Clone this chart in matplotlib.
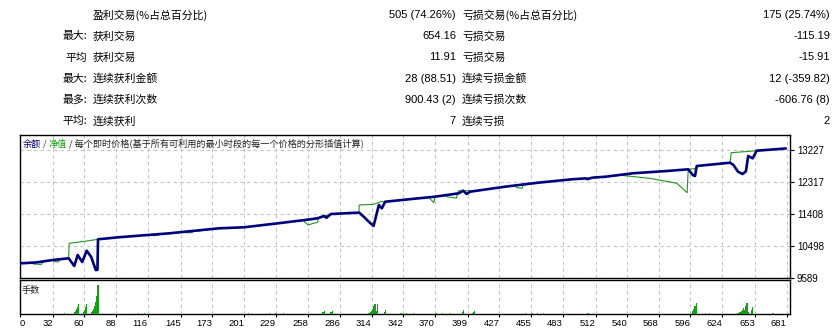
import matplotlib
matplotlib.use("Agg")
import matplotlib.pyplot as plt

# ---------------- data ----------------
row_prefix = ["", "最大:", "平均", "最大:", "最多:", "平均:"]
row_label_left = ["盈利交易(%占总百分比)", "获利交易", "获利交易", "连续获利金额", "连续获利次数", "连续获利"]
row_value_left = ["505 (74.26%)", "654.16", "11.91", "28 (88.51)", "900.43 (2)", "7"]
row_label_right = ["亏损交易(%占总百分比)", "亏损交易", "亏损交易", "连续亏损金额", "连续亏损次数", "连续亏损"]
row_value_right = ["175 (25.74%)", "-115.19", "-15.91", "12 (-359.82)", "-606.76 (8)", "2"]

balance_t = [0, 17, 32, 46, 51, 54, 58, 62, 66, 70, 71.5, 72, 90, 135, 179, 201, 231, 260, 266,
             272, 274, 278, 301, 303, 307, 311.5, 315.7, 320.4, 323, 326, 348, 370, 391, 395,
             398, 401, 432, 461, 491, 503, 505, 509, 521, 545, 575, 594, 598, 600, 601.5, 631,
             634, 638, 642, 645, 647, 651, 654.5, 680]
balance_v = [10000, 10030, 10101, 10149, 9930, 10243, 10044, 10365, 10186, 9816, 9820, 10689,
             10746, 10859, 11001, 11030, 11143, 11257, 11286, 11351, 11300, 11408, 11445, 11445,
             11331, 11189, 11067, 11664, 11570, 11757, 11830, 11900, 11996, 12070, 11976, 12042,
             12184, 12297, 12394, 12420, 12400, 12440, 12468, 12565, 12630, 12678, 12516, 12488,
             12772, 12866, 12800, 12610, 12545, 12620, 13056, 12991, 13207, 13270]

equity_t = [0, 14, 15, 22, 23, 32, 33, 37, 38, 46, 46.5, 62, 72, 90, 120, 121, 125, 126, 135,
            150, 151, 155, 156, 179, 201, 231, 254, 255, 258, 262, 266, 267, 272, 278, 302.7,
            303, 316, 322, 326, 348, 365, 366, 369, 370, 379, 380, 389, 390, 391, 404, 405, 432,
            441, 442, 447, 448, 461, 491, 498, 508, 521, 534, 560, 584, 593, 594, 601, 601.5,
            631, 632, 655, 680]
equity_v = [10000, 10025, 9985, 9975, 10045, 10101, 10060, 10045, 10110, 10149, 10575, 10640,
            10689, 10746, 10821, 10790, 10800, 10826, 10859, 10900, 10870, 10880, 10911, 11001,
            11030, 11143, 11235, 11170, 11095, 11140, 11170, 11286, 11351, 11408, 11445, 11664,
            11684, 11757, 11757, 11830, 11885, 11830, 11729, 11900, 11950, 11900, 11860, 11990,
            12070, 12070, 12060, 12184, 12215, 12160, 12140, 12230, 12297, 12394, 12410, 12440,
            12468, 12510, 12422, 12280, 12013, 12678, 12700, 12772, 12866, 13150, 13207, 13270]

lot_t = [42, 51, 52, 53, 54, 55, 59, 60, 61, 62, 66, 67, 68, 69, 70, 71, 72, 108, 113, 205,
         224, 229, 236, 271, 272, 278, 279, 311, 312, 313, 314, 315, 316, 317, 318, 319, 325, 326,
         340, 345, 351, 371, 377, 384, 394, 395, 403, 404, 405, 450, 456, 461, 466, 505, 506,
         598, 599, 600, 601, 609, 613, 638, 639, 640, 641, 642, 643, 644, 645, 646, 647, 650,
         651, 669]
lot_v = [0.01, 0.02, 0.03, 0.05, 0.07, 0.10, 0.02, 0.04, 0.07, 0.10, 0.02, 0.03, 0.05, 0.08,
         0.12, 0.18, 0.29, 0.01, 0.01, 0.01, 0.01, 0.01, 0.01, 0.02, 0.03, 0.02, 0.03, 0.01,
         0.01, 0.02, 0.03, 0.05, 0.08, 0.10, 0.03, 0.10, 0.02, 0.04, 0.01, 0.01, 0.01, 0.01,
         0.01, 0.01, 0.02, 0.04, 0.01, 0.02, 0.03, 0.01, 0.01, 0.01, 0.01, 0.01, 0.01, 0.03,
         0.05, 0.08, 0.11, 0.01, 0.01, 0.01, 0.02, 0.02, 0.03, 0.04, 0.06, 0.04, 0.08, 0.11,
         0.02, 0.04, 0.07, 0.01]

x_ticks = [0, 32, 60, 88, 116, 145, 173, 201, 229, 258, 286, 314, 342, 370, 399, 427, 455,
           483, 512, 540, 568, 596, 624, 653, 681]
y_ticks = [9589, 10498, 11408, 12317, 13227]

title_parts = ["余额", " / ", "净值", " / 每个即时价格(基于所有可利用的最小时段的每一个价格的分形插值计算)"]
lots_title = "手数"

# ---------------- style ----------------
W, H = 840, 333
NAVY = "#00007F"
GREEN = "#1E961E"
BAR_GREEN = "#14A014"
GRID = "#C4C4C4"
CJK = ["Noto Sans CJK SC", "DejaVu Sans"]
NUM = ["Liberation Sans", "DejaVu Sans"]

fig = plt.figure(figsize=(W / 100, H / 100), dpi=100)
fig.patch.set_facecolor("white")


def fx(px):
    return px / W


def fy(py):
    return 1 - py / H


# ---------------- statistics table ----------------
for i in range(len(row_label_left)):
    yy = fy(15 + 21.2 * i)
    if row_prefix[i]:
        fig.text(fx(87), yy, row_prefix[i], ha="right", va="center", fontsize=7.8, family=CJK)
    fig.text(fx(93), yy, row_label_left[i], ha="left", va="center", fontsize=7.8, family=CJK)
    fig.text(fx(456), yy, row_value_left[i], ha="right", va="center", fontsize=8, family=NUM)
    fig.text(fx(462), yy, row_label_right[i], ha="left", va="center", fontsize=7.8, family=CJK)
    fig.text(fx(830), yy, row_value_right[i], ha="right", va="center", fontsize=8, family=NUM)

# ---------------- axes ----------------
L, R = 20, 790
ax = fig.add_axes([fx(L), fy(278), (R - L) / W, (278 - 135) / H])
ax2 = fig.add_axes([fx(L), fy(314), (R - L) / W, (314 - 280) / H])

x_left, x_right = 3, 684
ytop = y_ticks[-1] + (y_ticks[-1] - y_ticks[0]) / 4 * (15 / 32)

ax.plot(equity_t, equity_v, color=GREEN, lw=0.8, zorder=3)
ax.plot(balance_t, balance_v, color=NAVY, lw=1.9, zorder=4, solid_joinstyle="round")
ax.set_xlim(x_left, x_right)
ax.set_ylim(y_ticks[0], ytop)

tick_pos = [max(v, x_left) for v in x_ticks]
for a in (ax, ax2):
    a.set_xticks(tick_pos)
    a.grid(True, axis="x", color=GRID, ls=(0, (3, 3)), lw=0.8)
    for s in a.spines.values():
        s.set_color("black")
        s.set_linewidth(1.0)

ax.grid(True, axis="y", color=GRID, ls=(0, (3, 3)), lw=0.8)
ax.set_axisbelow(True)
ax.tick_params(axis="x", bottom=False, labelbottom=False)
ax.yaxis.tick_right()
ax.set_yticks(y_ticks)
ax.set_yticklabels([str(v) for v in y_ticks])
ax.tick_params(axis="y", direction="out", length=3, width=0.8, pad=2, labelsize=7)
for lab in ax.get_yticklabels():
    lab.set_family(NUM)

# title chain
prev = ax.text(0.004, 0.968, title_parts[0], transform=ax.transAxes, ha="left", va="top",
               fontsize=6.6, color=NAVY, family=CJK)
colors = [NAVY, "#333333", GREEN, "#222222"]
for part, c in zip(title_parts[1:], colors[1:]):
    prev = ax.annotate(part, xy=(1, 0), xycoords=prev, ha="left", va="bottom",
                       fontsize=6.6, color=c, family=CJK)

# lots
ax2.bar(lot_t, lot_v, width=1.0, color=BAR_GREEN, linewidth=0, zorder=3)
ax2.set_xlim(x_left, x_right)
ax2.set_ylim(0, max(lot_v) * 34 / 29)
ax2.set_yticks([])
ax2.set_axisbelow(True)
ax2.set_xticklabels([str(v) for v in x_ticks])
ax2.tick_params(axis="x", direction="out", length=2, width=0.8, pad=1.5, labelsize=6.8)
for i, lab in enumerate(ax2.get_xticklabels()):
    lab.set_family(NUM)
    lab.set_ha("left" if i == 0 else "right")
ax2.text(0.002, 0.82, lots_title, transform=ax2.transAxes, ha="left", va="top",
         fontsize=6.6, color="#222222", family=CJK)

fig.savefig("out.png", dpi=100, facecolor="white")
